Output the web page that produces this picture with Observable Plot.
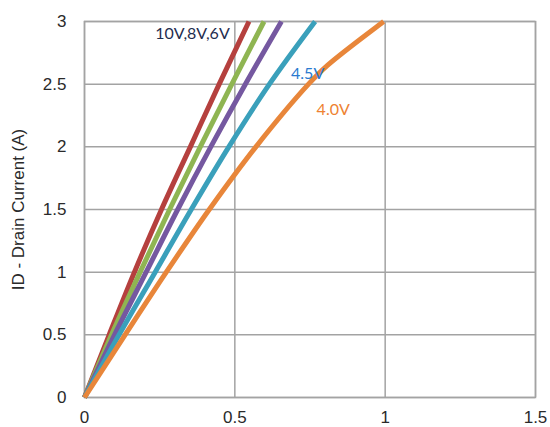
<!DOCTYPE html>
<html>
<head>
<meta charset="utf-8">
<script src="https://cdn.jsdelivr.net/npm/d3@7"></script>
<script src="https://cdn.jsdelivr.net/npm/@observablehq/plot@0.6"></script>
<style>
  html, body { margin: 0; padding: 0; background: #fff; }
  #chart { width: 550px; height: 427px; }
</style>
</head>
<body>
<div id="chart"></div>
<script>
// Drain current values (A) at which the curves were read
const idValues = [0, 0.5, 1, 1.5, 2, 2.5, 3];
// Drain-source voltage (V) for each gate voltage
const vds10V = [0, 0.082, 0.166, 0.256, 0.352, 0.448, 0.547];
const vds8V  = [0, 0.09, 0.185, 0.283, 0.385, 0.49, 0.597];
const vds6V  = [0, 0.1, 0.205, 0.31, 0.42, 0.535, 0.655];
const vds45V = [0, 0.115, 0.235, 0.355, 0.48, 0.615, 0.767];
const idValues40 = [0, 0.5, 1, 1.5, 2, 2.5, 2.65, 3];
const vds40V = [0, 0.135, 0.272, 0.415, 0.57, 0.745, 0.808, 0.995];

const seriesNames = ["10V", "8V", "6V", "4.5V", "4.0V"];
const seriesColors = ["#b5403e", "#8fb552", "#7558a0", "#3aa0bb", "#e8863a"];

const xTicks = [0, 0.5, 1, 1.5];
const yTicks = [0, 0.5, 1, 1.5, 2, 2.5, 3];

// annotation labels (data coordinates)
const labelTexts = ["10V,8V,6V", "4.5V", "4.0V"];
const labelX = [0.483, 0.687, 0.772];
const labelY = [2.905, 2.585, 2.295];
const labelColors = ["#1f2d4f", "#2a7ad0", "#ee8232"];

const rows = [];
[[vds10V, idValues], [vds8V, idValues], [vds6V, idValues], [vds45V, idValues], [vds40V, idValues40]]
  .forEach(([xs, ys], i) => xs.forEach((v, j) => rows.push({series: seriesNames[i], vds: v, id: ys[j]})));

const labels = labelTexts.map((t, i) => ({text: t, x: labelX[i], y: labelY[i], color: labelColors[i]}));

const gridColor = "#a3a3a3";
const fmt = d => String(d);
const labelFont = "Lato, 'Open Sans', sans-serif";
const axisFont = "'Liberation Sans', Arial, sans-serif";

const chart = Plot.plot({
  width: 550,
  height: 427,
  marginLeft: 84,
  marginRight: 15,
  marginTop: 21,
  marginBottom: 30,
  style: {fontFamily: axisFont, fontSize: "17px", color: "#2a2a2a", background: "#fff"},
  x: {domain: [0, 1.5]},
  y: {domain: [0, 3]},
  color: {domain: seriesNames, range: seriesColors},
  marks: [
    Plot.gridX(xTicks, {stroke: gridColor, strokeOpacity: 1, strokeWidth: 1.5}),
    Plot.gridY(yTicks, {stroke: gridColor, strokeOpacity: 1, strokeWidth: 1.5}),
    Plot.frame({stroke: gridColor, strokeWidth: 1.5}),
    Plot.axisX(xTicks, {tickSize: 0, tickPadding: 13, label: null, fontSize: 17, tickFormat: fmt, fontFamily: axisFont}),
    Plot.axisY(yTicks, {tickSize: 0, tickPadding: 18, fontSize: 17, tickFormat: fmt, fontFamily: axisFont, label: "ID - Drain Current (A)", labelAnchor: "center", labelArrow: "none", labelOffset: 73}),
    Plot.line(rows, {x: "vds", y: "id", z: "series", stroke: "series", strokeWidth: 5, curve: "catmull-rom", strokeLinecap: "butt"}),
    Plot.text(labels.slice(0, 1), {x: "x", y: "y", text: "text", textAnchor: "end", fill: "color", fontFamily: labelFont, fontSize: 16}),
    Plot.text(labels.slice(1), {x: "x", y: "y", text: "text", textAnchor: "start", fill: "color", fontFamily: labelFont, fontSize: 16})
  ]
});
document.getElementById("chart").appendChild(chart);
</script>
</body>
</html>
